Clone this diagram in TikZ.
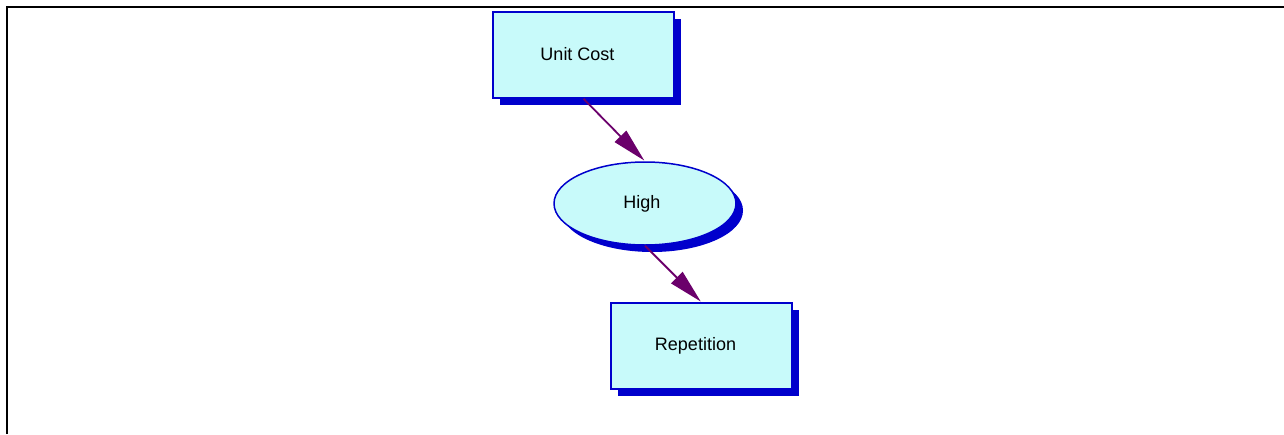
\documentclass[tikz,border=0pt]{standalone}
\usepackage{fontspec}
\setmainfont{Liberation Sans}
\usepackage{xcolor}
\usetikzlibrary{arrows.meta,positioning,shapes.geometric,shadows}
\definecolor{PaleCyan}{HTML}{C8FAFA}
\definecolor{EdgeBlue}{HTML}{0000CC}
\definecolor{Plum}{HTML}{6B006B}

\begin{document}
\begin{tikzpicture}[x=1pt,y=-1pt,
  card/.style={draw=EdgeBlue,line width=1.5pt,fill=PaleCyan,minimum width=181pt,minimum height=86pt,inner sep=0pt,font=\fontsize{18}{20}\selectfont,
    drop shadow={fill=EdgeBlue,opacity=1,shadow xshift=7pt,shadow yshift=-7pt}},
  oval/.style={card,ellipse,minimum width=182pt,minimum height=83pt},
  arr/.style={-{Triangle[length=34pt,width=16pt]},line width=1.8pt,color=Plum,shorten >=1pt}
]
\useasboundingbox (0,0) rectangle (1284,434);
\draw[line width=2.5pt] (7,434) -- (7,7) -- (1284,7);
\node[card] (cost) at (583.5,55) {\raisebox{2pt}{\hspace*{-12pt}Unit Cost}};
\node[oval] (high) at (645,203.5) {\hspace*{-6pt}High};
\node[card] (rep) at (701.5,346) {\hspace*{-12pt}Repetition};
\draw[arr] (cost.south) -- (high.north);
\draw[arr] (high.south) -- (rep.north);
\end{tikzpicture}
\end{document}
